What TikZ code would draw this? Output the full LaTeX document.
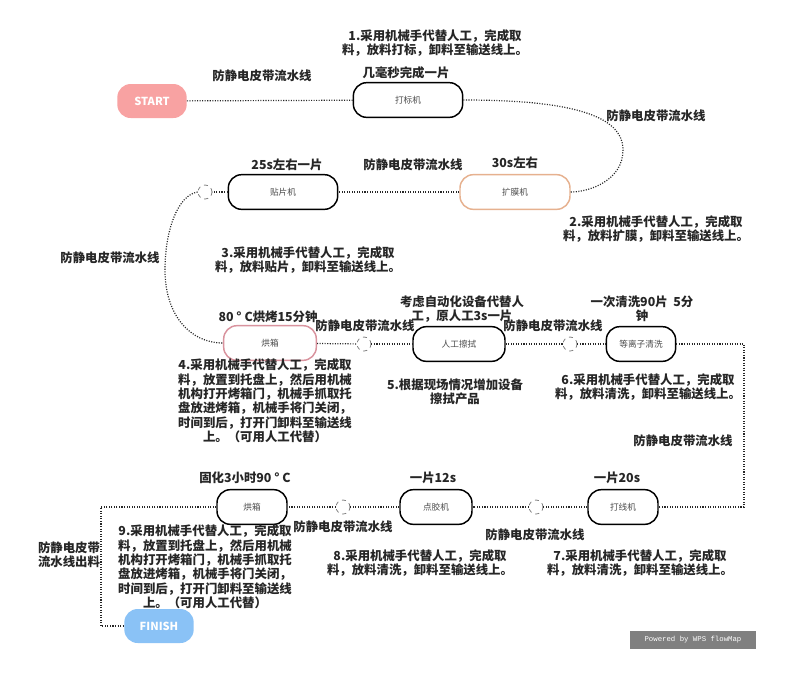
\documentclass[tikz,border=0pt]{standalone}
\usepackage{fontspec}
\setmainfont{Noto Sans CJK SC}
\newfontfamily\monof{Liberation Mono}
\begin{document}
\begin{tikzpicture}[x=0.75pt,y=-0.75pt]
\definecolor{startc}{HTML}{F8A2A2}
\definecolor{finishc}{HTML}{8AC2F6}
\definecolor{orangec}{HTML}{E6B18F}
\definecolor{pinkc}{HTML}{D9939E}
\tikzset{
  mach/.style={draw=black, line width=1.1pt, rounded corners=10pt, fill=white,
    minimum height=26pt, font=\fontsize{6.5}{8}\selectfont, text=black!70, inner sep=0pt},
  termbox/.style={rounded corners=10pt, minimum height=25.5pt, minimum width=52pt,
    text=white, font=\fontsize{8.3}{9}\selectfont\bfseries, inner sep=0pt},
  lbl/.style={font=\fontsize{9.3}{10.8}\selectfont\bfseries, align=center, inner sep=0pt, text=black!85},
  flow/.style={line width=0.9pt, black!85, dash pattern=on 0.8pt off 1.1pt},
  junc/.style={circle, draw=gray, dashed, line width=0.6pt, minimum size=10.5pt, inner sep=0pt, fill=white}
}
\useasboundingbox (0,0) rectangle (800,687);
% nodes
\node[termbox, fill=startc] (start) at (152,101) {START};
\node[mach, minimum width=82pt] (dabiao) at (408,100) {打标机};
\node[mach, draw=orangec, minimum width=82.5pt] (kuomo) at (515,192) {扩膜机};
\node[mach, minimum width=82pt] (tiepian) at (283,192) {贴片机};
\node[junc] (j1) at (205,192) {};
\node[mach, draw=pinkc, minimum width=69.5pt] (hx1) at (270,343) {烘箱};
\node[junc] (j2) at (364,344) {};
\node[mach, minimum width=69pt] (cashi) at (459,344) {人工擦拭};
\node[junc] (j3) at (570,344) {};
\node[mach, minimum width=52pt] (qx) at (641,344) {等离子清洗};
\node[mach, minimum width=52.5pt] (dx) at (623,507) {打线机};
\node[junc] (j4) at (536,507) {};
\node[mach, minimum width=54pt] (dj) at (436,507) {点胶机};
\node[junc] (j5) at (343,507) {};
\node[mach, minimum width=52.5pt] (hx2) at (252,507) {烘箱};
\node[termbox, fill=finishc] (finish) at (159,626) {FINISH};
\coordinate (c1) at (744,344);
\coordinate (c2) at (744,507);
\coordinate (c3) at (101,507);
\coordinate (c4) at (101,626);
% connectors
\draw[flow] (start) -- (dabiao);
\draw[flow] (dabiao.east) .. controls (570,100) and (623,115) .. (623,150) .. controls (623,180) and (590,192) .. (kuomo.east);
\draw[flow] (kuomo) -- (tiepian);
\draw[flow] (tiepian) -- (j1);
\draw[flow] (j1.west) .. controls (178,195) and (165,230) .. (165,270) .. controls (165,315) and (190,343) .. (hx1.west);
\draw[flow] (hx1) -- (j2);
\draw[flow] (j2) -- (cashi);
\draw[flow] (cashi) -- (j3);
\draw[flow] (j3) -- (qx);
\draw[flow] (qx.east) -- (c1) -- (c2) -- (dx.east);
\draw[flow] (dx) -- (j4);
\draw[flow] (j4) -- (dj);
\draw[flow] (dj) -- (j5);
\draw[flow] (j5) -- (hx2);
\draw[flow] (hx2.west) -- (c3) -- (c4) -- (finish.west);
% labels
\node[lbl] (t1) at (435,43) {1.采用机械手代替人工，完成取\\料，放料打标，卸料至输送线上。};
\node[lbl] (t2) at (406,73) {几毫秒完成一片};
\node[lbl] (t3) at (262,76) {防静电皮带流水线};
\node[lbl] (t4) at (656,116) {防静电皮带流水线};
\node[lbl] (t5) at (287,165) {25s左右一片};
\node[lbl] (t6) at (413,165) {防静电皮带流水线};
\node[lbl] (t7) at (515,163) {30s左右};
\node[lbl] (t8) at (656,229) {2.采用机械手代替人工，完成取\\料，放料扩膜，卸料至输送线上。};
\node[lbl] (t9) at (110,258) {防静电皮带流水线};
\node[lbl] (t10) at (308,260) {3.采用机械手代替人工，完成取\\料，放料贴片，卸料至输送线上。};
\node[lbl] (t11) at (268,317) {80 ° C烘烤15分钟};
\node[lbl] (t12) at (365,326) {防静电皮带流水线};
\node[lbl] (t13) at (462,309) {考虑自动化设备代替人\\工，原人工3s一片};
\node[lbl] (t14) at (553,326) {防静电皮带流水线};
\node[lbl] (t15) at (642,309) {一次清洗90片\ \ 5分\\钟};
\node[lbl] (t16) at (265,401) {4.采用机械手代替人工，完成取\\料，放置到托盘上，然后用机械\\机构打开烤箱门，机械手抓取托\\盘放进烤箱，机械手将门关闭，\\时间到后，打开门卸料至输送线\\上。（可用人工代替）};
\node[lbl] (t17) at (455,392) {5.根据现场情况增加设备\\擦拭产品};
\node[lbl] (t18) at (648,387) {6.采用机械手代替人工，完成取\\料，放料清洗，卸料至输送线上。};
\node[lbl] (t19) at (683,441) {防静电皮带流水线};
\node[lbl] (t20) at (245,478) {固化3小时90 ° C};
\node[lbl] (t21) at (433,478) {一片12s};
\node[lbl] (t22) at (617,478) {一片20s};
\node[lbl] (t23) at (343,527) {防静电皮带流水线};
\node[lbl] (t24) at (535,535) {防静电皮带流水线};
\node[lbl] (t25) at (205,567) {9.采用机械手代替人工，完成取\\料，放置到托盘上，然后用机械\\机构打开烤箱门，机械手抓取托\\盘放进烤箱，机械手将门关闭，\\时间到后，打开门卸料至输送线\\上。（可用人工代替）};
\node[lbl] (t26) at (69,555) {防静电皮带\\流水线出料};
\node[lbl] (t27) at (420,563) {8.采用机械手代替人工，完成取\\料，放料清洗，卸料至输送线上。};
\node[lbl] (t28) at (640,563) {7.采用机械手代替人工，完成取\\料，放料清洗，卸料至输送线上。};
\node[fill=gray, text=white, font=\monof\fontsize{5.5}{6}\selectfont, minimum width=95pt, minimum height=14pt, inner sep=0pt] (wm) at (693,640) {Powered by WPS flowMap};
\end{tikzpicture}
\end{document}
